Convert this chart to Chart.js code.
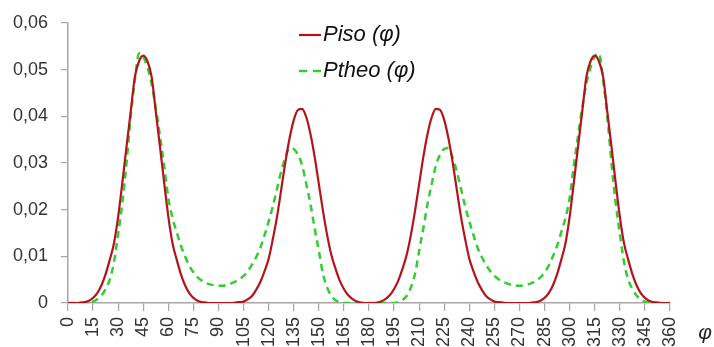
<!DOCTYPE html>
<html>
<head>
<meta charset="utf-8">
<script src="https://cdn.jsdelivr.net/npm/chart.js@4.4.1/dist/chart.umd.min.js"></script>
<style>
  html, body { margin: 0; padding: 0; background: #fff; }
  #wrap { width: 714px; height: 347px; position: relative; }
</style>
</head>
<body>
<div id="wrap"><canvas id="chart"></canvas></div>
<script>
// angle φ in degrees
const angles = [
  0, 2.5, 5, 7.5, 10, 12.5, 15, 17.5, 20, 22.5, 25, 27.5, 30, 32.5, 35, 37.5, 40, 42.5, 45, 47.5,
  50, 52.5, 55, 57.5, 60, 62.5, 65, 67.5, 70, 72.5, 75, 77.5, 80, 82.5, 85, 87.5, 90, 92.5, 95, 97.5,
  100, 102.5, 105, 107.5, 110, 112.5, 115, 117.5, 120, 122.5, 125, 127.5, 130, 132.5, 135, 137.5, 140, 142.5, 145, 147.5,
  150, 152.5, 155, 157.5, 160, 162.5, 165, 167.5, 170, 172.5, 175, 177.5, 180, 182.5, 185, 187.5, 190, 192.5, 195, 197.5,
  200, 202.5, 205, 207.5, 210, 212.5, 215, 217.5, 220, 222.5, 225, 227.5, 230, 232.5, 235, 237.5, 240, 242.5, 245, 247.5,
  250, 252.5, 255, 257.5, 260, 262.5, 265, 267.5, 270, 272.5, 275, 277.5, 280, 282.5, 285, 287.5, 290, 292.5, 295, 297.5,
  300, 302.5, 305, 307.5, 310, 312.5, 315, 317.5, 320, 322.5, 325, 327.5, 330, 332.5, 335, 337.5, 340, 342.5, 345, 347.5,
  350, 352.5, 355, 357.5, 360
];

const piso = [
  0, 0, 0, 0.0001, 0.0002, 0.0005, 0.0011, 0.0021, 0.0038, 0.0062, 0.0093, 0.0128, 0.0185, 0.0258, 0.0335, 0.041, 0.0485, 0.0518, 0.053, 0.0518,
  0.0485, 0.041, 0.0335, 0.0258, 0.0185, 0.0128, 0.0093, 0.0062, 0.0038, 0.0021, 0.0011, 0.0005, 0.0002, 0.0001, 0, 0, 0, 0, 0, 0,
  0.0001, 0.0002, 0.0003, 0.0008, 0.0015, 0.0028, 0.0045, 0.0068, 0.0095, 0.0137, 0.0185, 0.0243, 0.0302, 0.0353, 0.0392, 0.0414, 0.0416, 0.0398, 0.0362, 0.0313,
  0.0255, 0.0197, 0.0145, 0.0103, 0.0073, 0.0048, 0.003, 0.0017, 0.0009, 0.0004, 0.0001, 0, 0, 0, 0.0001, 0.0004, 0.0009, 0.0017, 0.003, 0.0048,
  0.0073, 0.0103, 0.0145, 0.0197, 0.0255, 0.0313, 0.0362, 0.0398, 0.0416, 0.0414, 0.0392, 0.0353, 0.0302, 0.0243, 0.0185, 0.0137, 0.0095, 0.0068, 0.0045, 0.0028,
  0.0015, 0.0008, 0.0003, 0.0002, 0.0001, 0, 0, 0, 0, 0, 0, 0.0001, 0.0002, 0.0005, 0.0011, 0.0021, 0.0038, 0.0062, 0.0093, 0.0128,
  0.0185, 0.0258, 0.0335, 0.041, 0.0485, 0.0518, 0.053, 0.0518, 0.0485, 0.041, 0.0335, 0.0258, 0.0185, 0.0128, 0.0093, 0.0062, 0.0038, 0.0021, 0.0011, 0.0005,
  0.0002, 0.0001, 0, 0, 0
];

const ptheo = [
  0, 0, 0, 0, 0, 0.0001, 0.0003, 0.0008, 0.0016, 0.003, 0.005, 0.0088, 0.0148, 0.0215, 0.03, 0.04, 0.0478, 0.0535, 0.0528, 0.0505,
  0.047, 0.0418, 0.0358, 0.0295, 0.0225, 0.0182, 0.0152, 0.0123, 0.01, 0.008, 0.0066, 0.0055, 0.0048, 0.0043, 0.004, 0.0038, 0.0037, 0.0037, 0.0039, 0.0042,
  0.0046, 0.0051, 0.0058, 0.0068, 0.0082, 0.0098, 0.0118, 0.0145, 0.0175, 0.0207, 0.0245, 0.0282, 0.0312, 0.0332, 0.033, 0.0318, 0.0295, 0.0255, 0.0212, 0.016,
  0.0112, 0.0062, 0.0033, 0.0015, 0.0006, 0.0002, 0, 0, 0, 0, 0, 0, 0, 0, 0, 0, 0, 0, 0, 0.0002,
  0.0006, 0.0015, 0.0033, 0.0062, 0.0112, 0.016, 0.0212, 0.0255, 0.0295, 0.0318, 0.033, 0.0332, 0.0312, 0.0282, 0.0245, 0.0207, 0.0175, 0.0145, 0.0118, 0.0098,
  0.0082, 0.0068, 0.0058, 0.0051, 0.0046, 0.0042, 0.0039, 0.0037, 0.0037, 0.0038, 0.004, 0.0043, 0.0048, 0.0055, 0.0066, 0.008, 0.01, 0.0123, 0.0152, 0.0182,
  0.0225, 0.0295, 0.0358, 0.0418, 0.047, 0.0505, 0.0528, 0.0535, 0.0478, 0.04, 0.03, 0.0215, 0.0148, 0.0088, 0.005, 0.003, 0.0016, 0.0008, 0.0003, 0.0001,
  0, 0, 0, 0, 0
];

const seriesNames = ['Piso (φ)', 'Ptheo (φ)'];
const xTickStep = 15;
const yTickStep = 0.01;

const axisGrey = '#a6a6a6';
const labelColor = '#333333';
const tickFont = { family: '"Liberation Sans", Arial, sans-serif', size: 18 };

const toPoints = (vals) => vals.map((v, i) => ({ x: angles[i], y: v }));

// legend drawn inside the plot, top centre
const overlayLegend = {
  id: 'overlayLegend',
  afterDraw(chart) {
    const ctx = chart.ctx;
    ctx.save();
    ctx.font = 'italic 22px "Liberation Sans", Arial, sans-serif';
    ctx.textBaseline = 'middle';
    ctx.textAlign = 'left';
    chart.data.datasets.forEach((ds, i) => {
      const y = 35 + i * 36;
      ctx.strokeStyle = ds.borderColor;
      ctx.lineWidth = ds.borderWidth;
      ctx.setLineDash(ds.borderDash ? [8, 6] : []);
      ctx.beginPath();
      ctx.moveTo(299, y);
      ctx.lineTo(321, y);
      ctx.stroke();
      ctx.setLineDash([]);
      ctx.fillStyle = '#111';
      ctx.fillText(ds.label, 323, y);
    });
    ctx.restore();
  }
};

// φ symbol at the end of the x axis
const axisSymbol = {
  id: 'axisSymbol',
  afterDraw(chart) {
    const ctx = chart.ctx;
    const a = chart.chartArea;
    ctx.save();
    ctx.font = 'italic 21px "Liberation Sans", Arial, sans-serif';
    ctx.fillStyle = '#222';
    ctx.textAlign = 'center';
    ctx.textBaseline = 'middle';
    ctx.fillText('φ', a.right + 35, a.bottom + 30);
    ctx.restore();
  }
};

new Chart(document.getElementById('chart'), {
  type: 'line',
  data: {
    datasets: [
      {
        label: seriesNames[0],
        data: toPoints(piso),
        borderColor: '#b3141c',
        borderWidth: 2.2,
        pointRadius: 0,
        fill: false,
        cubicInterpolationMode: 'monotone'
      },
      {
        label: seriesNames[1],
        data: toPoints(ptheo),
        borderColor: '#33cc33',
        borderWidth: 2.5,
        borderDash: [7, 5],
        pointRadius: 0,
        fill: false,
        cubicInterpolationMode: 'monotone'
      }
    ]
  },
  options: {
    responsive: true,
    maintainAspectRatio: false,
    animation: false,
    layout: { padding: { left: 0, right: 44, top: 23, bottom: 0 } },
    plugins: {
      legend: { display: false },
      tooltip: { enabled: false }
    },
    scales: {
      x: {
        type: 'linear',
        min: 0,
        max: 360,
        border: { display: true, color: axisGrey, width: 1.5 },
        grid: { drawOnChartArea: false, drawTicks: true, tickLength: 8, color: axisGrey, lineWidth: 1.2 },
        ticks: {
          stepSize: xTickStep,
          autoSkip: false,
          minRotation: 90,
          maxRotation: 90,
          padding: 6,
          color: labelColor,
          font: tickFont
        },
        afterFit(scale) {
          scale.height = 44;
          scale.paddingLeft = 0;
          scale.paddingRight = 0;
        }
      },
      y: {
        min: 0,
        max: 0.06,
        border: { display: true, color: axisGrey, width: 1.5 },
        grid: { drawOnChartArea: false, drawTicks: true, tickLength: 7, color: axisGrey, lineWidth: 1.2 },
        ticks: {
          stepSize: yTickStep,
          padding: 13,
          color: labelColor,
          font: tickFont,
          callback: (v) => (v === 0 ? '0' : v.toFixed(2).replace('.', ','))
        },
        afterFit(scale) {
          scale.width = 68;
          scale.paddingTop = 0;
          scale.paddingBottom = 0;
        }
      }
    }
  },
  plugins: [overlayLegend, axisSymbol]
});
</script>
</body>
</html>
